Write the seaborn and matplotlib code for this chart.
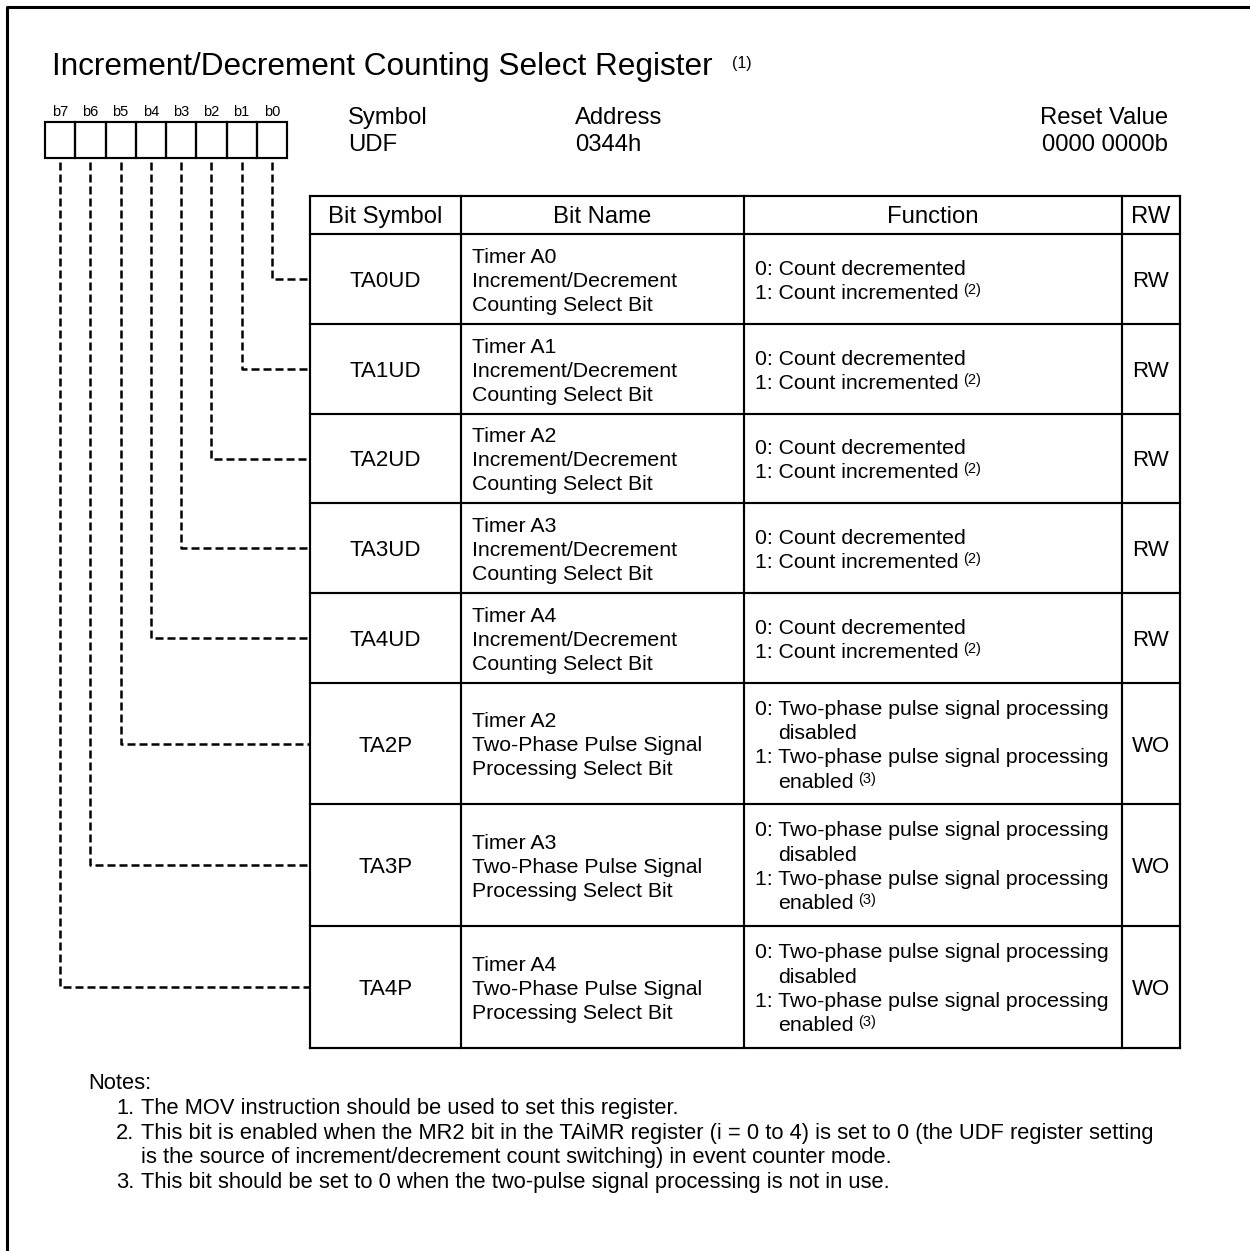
import matplotlib
matplotlib.use('Agg')
import matplotlib.pyplot as plt
import seaborn as sns

# register content
title = 'Increment/Decrement Counting Select Register'
title_note = '(1)'
bit_labels = ['b7', 'b6', 'b5', 'b4', 'b3', 'b2', 'b1', 'b0']
symbol, address, reset_value = 'UDF', '0344h', '0000 0000b'
header = ['Bit Symbol', 'Bit Name', 'Function', 'RW']

bit_symbols = ['TA0UD', 'TA1UD', 'TA2UD', 'TA3UD', 'TA4UD', 'TA2P', 'TA3P', 'TA4P']
bit_names = [
    ['Timer A0', 'Increment/Decrement', 'Counting Select Bit'],
    ['Timer A1', 'Increment/Decrement', 'Counting Select Bit'],
    ['Timer A2', 'Increment/Decrement', 'Counting Select Bit'],
    ['Timer A3', 'Increment/Decrement', 'Counting Select Bit'],
    ['Timer A4', 'Increment/Decrement', 'Counting Select Bit'],
    ['Timer A2', 'Two-Phase Pulse Signal', 'Processing Select Bit'],
    ['Timer A3', 'Two-Phase Pulse Signal', 'Processing Select Bit'],
    ['Timer A4', 'Two-Phase Pulse Signal', 'Processing Select Bit'],
]
# (text, continuation line?, footnote)
func_ud = [('0: Count decremented', False, ''), ('1: Count incremented', False, '(2)')]
func_p = [('0: Two-phase pulse signal processing', False, ''), ('disabled', True, ''),
          ('1: Two-phase pulse signal processing', False, ''), ('enabled', True, '(3)')]
functions = [func_ud] * 5 + [func_p] * 3
rw = ['RW', 'RW', 'RW', 'RW', 'RW', 'WO', 'WO', 'WO']

notes = [
    ('1.', ['The MOV instruction should be used to set this register.']),
    ('2.', ['This bit is enabled when the MR2 bit in the TAiMR register (i = 0 to 4) is set to 0 (the UDF register setting',
            'is the source of increment/decrement count switching) in event counter mode.']),
    ('3.', ['This bit should be set to 0 when the two-pulse signal processing is not in use.']),
]

# layout (pixels)
W, H = 1250, 1251
row_edges = [196, 234, 324, 414, 503, 593, 683, 804, 926, 1048]
col_edges = [310, 461, 744, 1122, 1180]
box_x0, box_w, box_top, box_bot = 45, 30.25, 122, 158
fs_head = 17.2   # header / symbol block
fs_sym = 16      # bit symbol and RW columns
fs_body = 15.3   # bit name and function columns
line_h = 24.2
cap = 7.8

sns.set_theme(style='white')
plt.rcParams['font.family'] = ['Liberation Sans', 'DejaVu Sans']
plt.rcParams['text.color'] = 'black'

fig = plt.figure(figsize=(W / 100, H / 100), dpi=100)
ax = fig.add_axes([0, 0, 1, 1])
ax.set_xlim(0, W)
ax.set_ylim(H, 0)
ax.axis('off')
renderer = fig.canvas.get_renderer()
lw = 1.55


def sup(t, note, size=10.5, dx=5, dy=-5):
    # small footnote mark after a text
    bb = t.get_window_extent(renderer)
    x_end = bb.x1 * W / fig.bbox.width
    y = t.get_position()[1]
    ax.text(x_end + dx, y + dy, note, fontsize=size, va='baseline', ha='left')


# outer frame
ax.plot([7, 7, W], [H, 7, 7], color='black', lw=2.2, solid_capstyle='butt')

# title
t = ax.text(52, 75, title, fontsize=22.7, va='baseline')
sup(t, title_note, size=11.5, dx=19, dy=-7)

# bit boxes
for i, lab in enumerate(bit_labels):
    x = box_x0 + i * box_w
    ax.add_patch(plt.Rectangle((x, box_top), box_w, box_bot - box_top, fill=False, lw=lw, ec='black'))
    ax.text(x + box_w / 2, 116, lab, fontsize=10.5, ha='center', va='baseline')

# symbol / address / reset value
ax.text(348, 124, 'Symbol', fontsize=fs_head, va='baseline')
ax.text(348, 151, symbol, fontsize=fs_head, va='baseline')
ax.text(575, 124, 'Address', fontsize=fs_head, va='baseline')
ax.text(575, 151, address, fontsize=fs_head, va='baseline')
ax.text(1168, 124, 'Reset Value', fontsize=fs_head, va='baseline', ha='right')
ax.text(1168, 151, reset_value, fontsize=fs_head, va='baseline', ha='right')

# table grid
for y in row_edges:
    ax.plot([col_edges[0], col_edges[-1]], [y, y], color='black', lw=lw, solid_capstyle='projecting')
for x in col_edges:
    ax.plot([x, x], [row_edges[0], row_edges[-1]], color='black', lw=lw, solid_capstyle='projecting')

hy = (row_edges[0] + row_edges[1]) / 2 + 8
for j, h in enumerate(header):
    ax.text((col_edges[j] + col_edges[j + 1]) / 2, hy, h, fontsize=fs_head, ha='center', va='baseline')

for r in range(len(bit_symbols)):
    yc = (row_edges[r + 1] + row_edges[r + 2]) / 2
    ax.text((col_edges[0] + col_edges[1]) / 2, yc + 8, bit_symbols[r], fontsize=fs_sym, ha='center', va='baseline')
    ax.text((col_edges[3] + col_edges[4]) / 2, yc + 8, rw[r], fontsize=fs_sym, ha='center', va='baseline')
    names = bit_names[r]
    for k, s in enumerate(names):
        y = yc - (len(names) - 1) / 2 * line_h + k * line_h + cap
        ax.text(col_edges[1] + 11, y, s, fontsize=fs_body, va='baseline')
    fl = functions[r]
    for k, (s, cont, note) in enumerate(fl):
        y = yc - (len(fl) - 1) / 2 * line_h + k * line_h + cap
        t = ax.text(col_edges[2] + (34 if cont else 11), y, s, fontsize=fs_body, va='baseline')
        if note:
            sup(t, note)
    # dashed connector from bit box to row
    bx = box_x0 + (7 - r) * box_w + box_w / 2
    ax.plot([bx, bx, col_edges[0]], [box_bot + 4, yc, yc], color='black', lw=1.8,
            linestyle=(0, (3.2, 1.6)))

# notes
fs_note = 15.75
y = 1089
ax.text(88, y, 'Notes:', fontsize=fs_note, va='baseline')
for num, lines in notes:
    for k, s in enumerate(lines):
        y += 24.8
        if k == 0:
            ax.text(116, y, num, fontsize=fs_note, va='baseline')
        ax.text(141, y, s, fontsize=fs_note, va='baseline')

fig.savefig('out.png', dpi=100)
plt.close(fig)
